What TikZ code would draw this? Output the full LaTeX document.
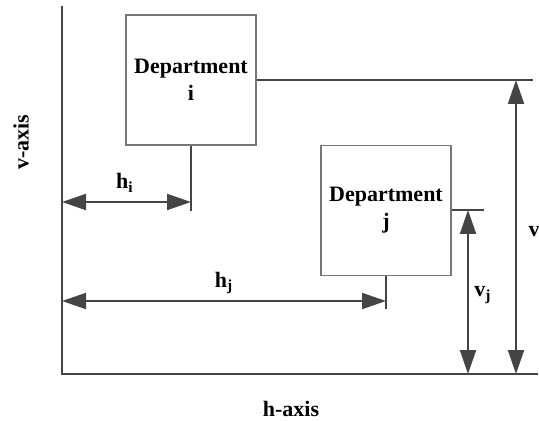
\documentclass[tikz,border=0pt]{standalone}
\usepackage{fontspec}
\setmainfont{Liberation Serif}
\usetikzlibrary{arrows.meta}
\definecolor{lineclr}{HTML}{454545}
\definecolor{boxclr}{HTML}{777777}
\begin{document}
\begin{tikzpicture}[x=0.5pt,y=-0.5pt,
  every node/.style={font=\fontsize{11}{13.5}\selectfont\bfseries, text=black},
  dept/.style={draw=boxclr, line width=0.6pt, fill=white, minimum width=65pt,
    minimum height=65pt, inner sep=0pt, align=center},
  axisline/.style={draw=lineclr, line width=1pt},
  guide/.style={draw=lineclr, line width=1pt},
  dim/.style={draw=lineclr, line width=1pt,
    {Triangle[length=12pt,width=8pt]}-{Triangle[length=12pt,width=8pt]}},
  lbl/.style={inner sep=0pt}
]
\useasboundingbox (0,0) rectangle (539,421);

% axes
\coordinate (top) at (62,6);
\coordinate (origin) at (62,374);
\coordinate (right) at (538,374);
\draw[axisline] (top) -- (origin) -- (right);

% departments
\node[dept] (depi) at (191,80) {Department\\i};
\node[dept] (depj) at (386,210.5) {Department\\j};

% guide lines
\coordinate (iEnd) at (533,80);
\coordinate (iLow) at (191,211);
\coordinate (jEnd) at (484,210);
\coordinate (jLow) at (386,309);
\draw[guide] (depi.east) -- (iEnd);
\draw[guide] (depi.south) -- (iLow);
\draw[guide] (depj.east |- jEnd) -- (jEnd);
\draw[guide] (depj.south) -- (jLow);

% dimension arrows
\coordinate (hiL) at (62,202);
\coordinate (hiR) at (191,202);
\coordinate (hjL) at (62,301);
\coordinate (hjR) at (386,301);
\coordinate (vT) at (516,80);
\coordinate (vB) at (516,374);
\coordinate (vjT) at (468,210);
\coordinate (vjB) at (468,374);
\draw[dim] (hiL) -- (hiR);
\draw[dim] (hjL) -- (hjR);
\draw[dim] (vT) -- (vB);
\draw[dim] (vjT) -- (vjB);

% labels
\node[lbl] (lhi) at (125,183) {h\textsubscript{i}};
\node[lbl] (lhj) at (224,283) {h\textsubscript{j}};
\node[lbl] (lvj) at (483,295) {v\textsubscript{j}};
\node[lbl] (lv) at (534,232) {v};
\node[lbl, rotate=90] (vaxis) at (21,142) {v-axis};
\node[lbl] (haxis) at (291,409) {h-axis};
\end{tikzpicture}
\end{document}
